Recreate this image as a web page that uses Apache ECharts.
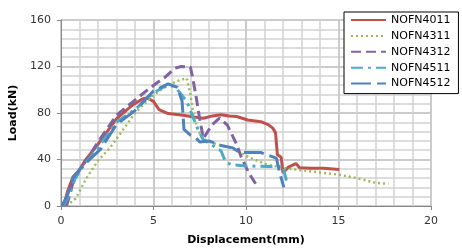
<!DOCTYPE html>
<html>
<head>
<meta charset="utf-8">
<script src="https://cdn.jsdelivr.net/npm/echarts@6/dist/echarts.min.js"></script>
<style>
  html,body{margin:0;padding:0;background:#fff;}
  #chart{width:462px;height:251px;}
</style>
</head>
<body>
<div id="chart"></div>
<script>
// data: [displacement(mm), load(kN)]
var names = ['NOFN4011', 'NOFN4311', 'NOFN4312', 'NOFN4511', 'NOFN4512'];
var nofn4011 = [[0.15,0],[0.35,12],[0.65,25],[1.0,31],[1.3,39],[2.0,53],[3.0,75],[3.8,86],[4.4,92],[4.65,93],[5.0,90],[5.3,83],[5.8,79.5],[6.6,78],[7.2,76.5],[7.7,75.5],[8.2,77.5],[8.65,78.5],[9.1,77.5],[9.5,77],[10.1,74],[10.8,72.5],[11.2,70],[11.45,67],[11.6,63],[11.7,44],[11.9,42],[11.95,36],[12.0,28.5],[12.3,33.5],[12.7,36.5],[12.9,33],[13.5,32.5],[14.2,32.5],[15.05,31.5]];
var nofn4311 = [[0.3,0],[0.8,6.5],[1.15,17],[1.35,23],[2.0,39],[2.65,50],[3.15,61],[3.65,72],[4.0,80],[4.65,90],[5.3,99],[5.8,104],[6.3,107.5],[6.8,110],[6.9,109],[7.0,96],[7.15,80],[7.4,66],[7.65,58],[8.15,54.5],[9.15,50],[9.7,46],[10.15,42],[11.15,35.5],[12.15,32.5],[13.15,30.5],[14.15,28.5],[15.0,27],[16.0,24],[17.0,20],[17.7,19]];
var nofn4312 = [[0.3,0],[0.45,8],[0.65,20],[1.0,31],[1.5,42],[2.0,55],[3.0,78],[4.15,93],[4.65,99.5],[5.2,106],[5.65,111],[6.15,118.5],[6.5,120],[7.0,119.5],[7.15,108],[7.35,90],[7.5,75],[7.7,58],[8.15,69.5],[8.57,75.5],[9.0,69.5],[9.5,53],[9.75,42],[10.15,28.5],[10.65,16]];
var nofn4511 = [[0.1,0],[0.45,9],[0.75,23],[1.15,33],[2.0,50],[3.0,72],[4.0,83],[5.0,97],[5.5,102],[5.9,104],[6.2,102],[6.5,96],[6.8,90],[7.1,78],[7.4,66],[7.7,57],[8.2,52],[8.65,47.5],[8.9,38],[9.2,35.5],[10.0,34.5],[11.2,34],[12.0,34],[12.2,21]];
var nofn4512 = [[0.05,0],[0.35,9],[0.65,24],[1.15,34],[2.15,49],[3.0,70],[4.0,82],[5.0,99],[5.8,105],[6.3,102],[6.55,90],[6.65,66],[7.0,61],[7.3,58.5],[7.5,55],[8.0,56],[8.65,52],[9.3,50],[9.65,46],[10.8,46],[11.5,42],[11.65,41],[11.8,30],[12.05,16]];

var font = 'DejaVu Sans';
var myChart = echarts.init(document.getElementById('chart'));

function lineSeries(name, data, color, width, dash){
  return {
    name: name,
    type: 'line',
    data: data,
    xAxisIndex: 0,
    yAxisIndex: 0,
    z: 3,
    symbol: 'none',
    lineStyle: {color: color, width: width, type: dash},
    itemStyle: {color: color}
  };
}

// light minor grid from a second pair of axes, labels kept but transparent
function minorAxis(max, step){
  return {
    type: 'value', min: 0, max: max, interval: step,
    axisLine: {show: false},
    axisTick: {show: false},
    axisLabel: {color: 'rgba(255,255,255,0)'},
    splitLine: {show: true, lineStyle: {color: '#d2d2d2', width: 1.5}}
  };
}

var option = {
  animation: false,
  grid: {left: 57, right: 6, top: 13, bottom: 43},
  legend: {
    orient: 'vertical',
    left: 344,
    top: 12,
    width: 112,
    padding: [2, 8, 4, 6],
    itemGap: 3.9,
    itemWidth: 35,
    itemHeight: 10,
    borderColor: '#000',
    borderWidth: 1,
    backgroundColor: '#fff',
    itemStyle: {opacity: 0},
    textStyle: {fontFamily: font, fontSize: 11, color: '#000', lineHeight: 12, padding: [0,0,0,0]},
    data: names
  },
  xAxis: [{
    type: 'value',
    min: 0, max: 20, interval: 5,
    position: 'bottom',
    name: 'Displacement(mm)',
    nameLocation: 'middle',
    nameGap: 29,
    nameTextStyle: {fontFamily: font, fontSize: 11, fontWeight: 'bold', color: '#000'},
    axisLine: {show: true, onZero: false, lineStyle: {color: '#888', width: 1}},
    axisTick: {show: true, length: 4, lineStyle: {color: '#888'}},
    axisLabel: {fontFamily: font, fontSize: 11, color: '#333', margin: 10},
    splitLine: {show: true, lineStyle: {color: '#a0a0a0', width: 1.5}}
  }, minorAxis(20, 1)],
  yAxis: [{
    type: 'value',
    min: 0, max: 160, interval: 40,
    position: 'left',
    name: 'Load(kN)',
    nameLocation: 'middle',
    nameGap: 40,
    nameTextStyle: {fontFamily: font, fontSize: 11, fontWeight: 'bold', color: '#000'},
    axisLine: {show: true, onZero: false, lineStyle: {color: '#888', width: 1}},
    axisTick: {show: true, length: 4, lineStyle: {color: '#888'}},
    axisLabel: {fontFamily: font, fontSize: 11, color: '#333', margin: 10},
    splitLine: {show: true, lineStyle: {color: '#a0a0a0', width: 1.5}}
  }, minorAxis(160, 8)],
  series: [
    lineSeries(names[0], nofn4011, '#C0504D', 3, 'solid'),
    lineSeries(names[1], nofn4311, '#9BBB59', 2.5, [2, 3]),
    lineSeries(names[2], nofn4312, '#8064A2', 3, [10, 5]),
    lineSeries(names[3], nofn4511, '#4BACC6', 3, [12, 5, 3, 5]),
    lineSeries(names[4], nofn4512, '#4F81BD', 3, [20, 6])
  ]
};
myChart.setOption(option);
</script>
</body>
</html>
